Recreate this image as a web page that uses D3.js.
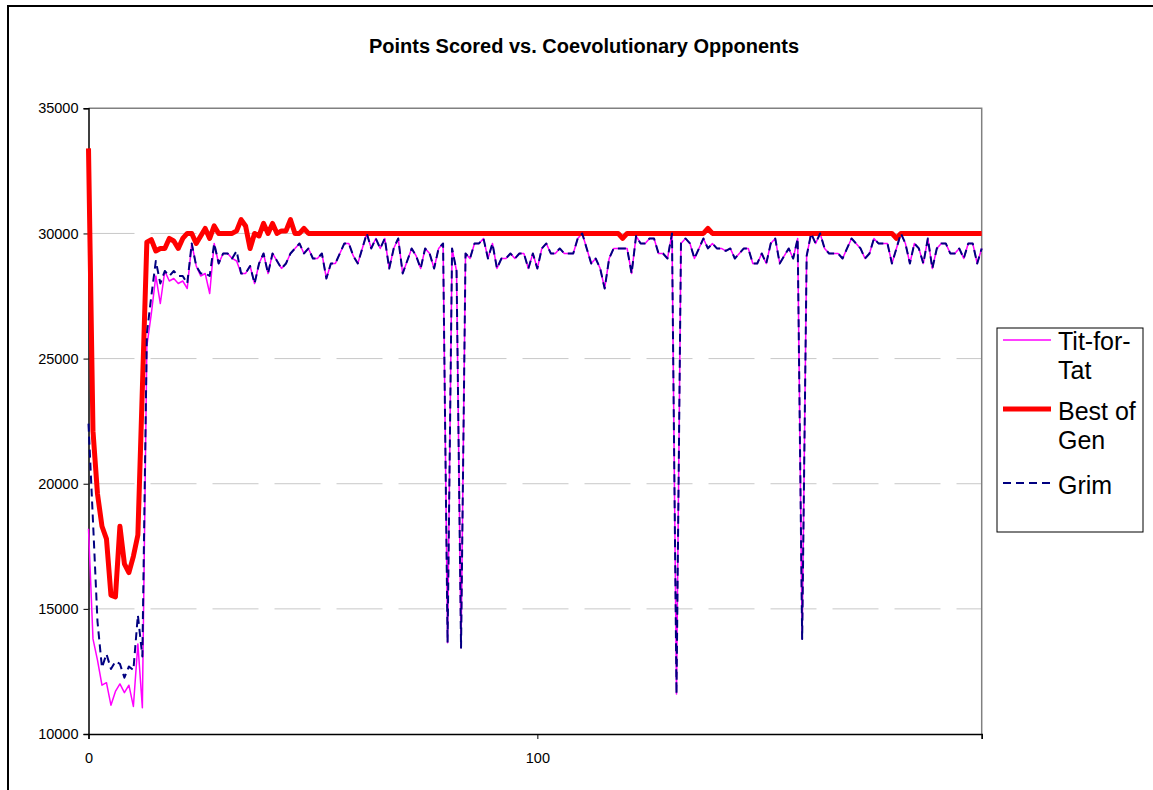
<!DOCTYPE html>
<html>
<head>
<meta charset="utf-8">
<script src="https://cdn.jsdelivr.net/npm/d3@7"></script>
<style>
    body { margin: 0; background: #fff; }
    svg { display: block; font-family: "Liberation Sans", Arial, sans-serif; }
</style>
</head>
<body>
<div id="chart"></div>
<script>
'use strict';

// points scored per generation (generation = array index)
const titForTat = [
    18200, 13800, 12950, 11950, 12050, 11150, 11700, 12000, 11650, 11950,
    11100, 13600, 11050, 25500, 26800, 28300, 27200, 28500, 28100, 28200,
    28000, 28100, 27800, 29600, 28700, 28300, 28400, 27600, 29600, 28800,
    29200, 29200, 29000, 28900, 28400, 28400, 28700, 28000, 28800, 29200,
    28400, 29200, 28900, 28600, 28800, 29200, 29400, 29600, 29200, 29400,
    29000, 29000, 29200, 28200, 28800, 28800, 29200, 29600, 29600, 29100,
    28800, 29400, 30000, 29400, 29800, 29400, 29800, 28600, 29400, 29800,
    28400, 28900, 29400, 29100, 28600, 29400, 29200, 28600, 29400, 29600,
    13650, 29400, 28500, 13450, 29200, 29000, 29600, 29600, 29800, 29000,
    29600, 28600, 29000, 29000, 29200, 29000, 29200, 29200, 28600, 29200,
    28600, 29400, 29600, 29200, 29200, 29400, 29200, 29200, 29200, 29800,
    30000, 29400, 28800, 29000, 28600, 27800, 29000, 29400, 29400, 29400,
    29400, 28400, 29900, 29600, 29600, 29800, 29800, 29200, 29200, 29000,
    30000, 11600, 29600, 29800, 29600, 29000, 29400, 29800, 29400, 29600,
    29400, 29400, 29300, 29400, 29000, 29200, 29400, 29400, 28800, 28800,
    29200, 28800, 29600, 29800, 28800, 29100, 29400, 29000, 29800, 13800,
    29100, 30000, 29600, 30000, 29400, 29200, 29200, 29200, 29000, 29400,
    29800, 29600, 29400, 29000, 29200, 29800, 29600, 29600, 29600, 28800,
    29400, 30000, 29600, 28800, 29600, 29400, 28800, 29800, 28600, 29400,
    29600, 29600, 29200, 29200, 29400, 29000, 29600, 29600, 28800, 29400
];

const bestOfGen = [
    33400, 22100, 19600, 18300, 17800, 15550, 15480, 18300, 16800, 16450,
    17100, 17950, 23800, 29650, 29750, 29300, 29400, 29400, 29800, 29700,
    29400, 29800, 30000, 30000, 29600, 29900, 30200, 29800, 30300, 30000,
    30000, 30000, 30000, 30100, 30550, 30300, 29400, 30000, 29900, 30400,
    30000, 30400, 30000, 30100, 30100, 30550, 30000, 30000, 30200, 30000,
    30000, 30000, 30000, 30000, 30000, 30000, 30000, 30000, 30000, 30000,
    30000, 30000, 30000, 30000, 30000, 30000, 30000, 30000, 30000, 30000,
    30000, 30000, 30000, 30000, 30000, 30000, 30000, 30000, 30000, 30000,
    30000, 30000, 30000, 30000, 30000, 30000, 30000, 30000, 30000, 30000,
    30000, 30000, 30000, 30000, 30000, 30000, 30000, 30000, 30000, 30000,
    30000, 30000, 30000, 30000, 30000, 30000, 30000, 30000, 30000, 30000,
    30000, 30000, 30000, 30000, 30000, 30000, 30000, 30000, 30000, 29800,
    30000, 30000, 30000, 30000, 30000, 30000, 30000, 30000, 30000, 30000,
    30000, 30000, 30000, 30000, 30000, 30000, 30000, 30000, 30200, 30000,
    30000, 30000, 30000, 30000, 30000, 30000, 30000, 30000, 30000, 30000,
    30000, 30000, 30000, 30000, 30000, 30000, 30000, 30000, 30000, 30000,
    30000, 30000, 30000, 30000, 30000, 30000, 30000, 30000, 30000, 30000,
    30000, 30000, 30000, 30000, 30000, 30000, 30000, 30000, 30000, 30000,
    29800, 30000, 30000, 30000, 30000, 30000, 30000, 30000, 30000, 30000,
    30000, 30000, 30000, 30000, 30000, 30000, 30000, 30000, 30000, 30000
];

const grim = [
    22400, 18500, 14500, 12650, 13200, 12600, 12900, 12800, 12250, 12700,
    12550, 14750, 13100, 26000, 27500, 28900, 28000, 28500, 28300, 28500,
    28300, 28300, 28000, 29600, 28700, 28400, 28400, 28300, 29600, 28800,
    29200, 29200, 29000, 29300, 28400, 28400, 28700, 28000, 28800, 29200,
    28400, 29200, 28900, 28600, 28800, 29200, 29400, 29600, 29200, 29400,
    29000, 29000, 29200, 28200, 28800, 28800, 29200, 29600, 29600, 29100,
    28800, 29400, 30000, 29400, 29800, 29400, 29800, 28600, 29400, 29800,
    28400, 28900, 29400, 29100, 28600, 29400, 29200, 28600, 29400, 29600,
    13650, 29400, 28500, 13450, 29200, 29000, 29600, 29600, 29800, 29000,
    29600, 28600, 29000, 29000, 29200, 29000, 29200, 29200, 28600, 29200,
    28600, 29400, 29600, 29200, 29200, 29400, 29200, 29200, 29200, 29800,
    30000, 29400, 28800, 29000, 28600, 27800, 29000, 29400, 29400, 29400,
    29400, 28400, 29900, 29600, 29600, 29800, 29800, 29200, 29200, 29000,
    30000, 11600, 29600, 29800, 29600, 29000, 29400, 29800, 29400, 29600,
    29400, 29400, 29300, 29400, 29000, 29200, 29400, 29400, 28800, 28800,
    29200, 28800, 29600, 29800, 28800, 29100, 29400, 29000, 29800, 13800,
    29100, 30000, 29600, 30000, 29400, 29200, 29200, 29200, 29000, 29400,
    29800, 29600, 29400, 29000, 29200, 29800, 29600, 29600, 29600, 28800,
    29400, 30000, 29600, 28800, 29600, 29400, 28800, 29800, 28600, 29400,
    29600, 29600, 29200, 29200, 29400, 29000, 29600, 29600, 28800, 29400
];

const yTicks = [10000, 15000, 20000, 25000, 30000, 35000];
const xTickLabels = [0, 100];
const xTickMarks = [0, 100, 199];

const series = [
    {name: ["Tit-for-", "Tat"], values: titForTat, color: "#ff00ff", width: 1.5, dash: null},
    {name: ["Best of", "Gen"], values: bestOfGen, color: "#ff0000", width: 5, dash: null},
    {name: ["Grim"], values: grim, color: "#000080", width: 2, dash: "8,5"}
];

const W = 1153, H = 790;
const plot = {left: 88.5, right: 981.7, top: 108.3, bottom: 734};

const svg = d3.select("#chart").append("svg")
    .attr("width", W)
    .attr("height", H);

// outer chart frame (runs off the right and bottom edge)
svg.append("rect")
    .attr("x", 8).attr("y", 6)
    .attr("width", W + 20).attr("height", H + 20)
    .attr("fill", "#fff")
    .attr("stroke", "#000")
    .attr("stroke-width", 2);

const x = d3.scaleLinear()
    .domain([0, titForTat.length - 1])
    .range([plot.left, plot.right]);

const y = d3.scaleLinear()
    .domain([10000, 35000])
    .range([plot.bottom, plot.top]);

// title
svg.append("text")
    .attr("x", 584)
    .attr("y", 53)
    .attr("text-anchor", "middle")
    .style("font-size", "20px")
    .style("font-weight", "bold")
    .text("Points Scored vs. Coevolutionary Opponents");

// dashed gridlines
svg.append("g")
    .selectAll("line")
    .data(yTicks.filter(function(d) { return d > 10000 && d < 35000; }))
    .join("line")
    .attr("x1", plot.left).attr("x2", plot.right)
    .attr("y1", function(d) { return y(d); })
    .attr("y2", function(d) { return y(d); })
    .attr("stroke", "#c8c8c8")
    .attr("stroke-width", 1)
    .attr("stroke-dasharray", "46,16");

// plot frame: top and right in grey
svg.append("path")
    .attr("d", "M" + plot.left + "," + plot.top + "H" + plot.right + "V" + plot.bottom)
    .attr("fill", "none")
    .attr("stroke", "#808080")
    .attr("stroke-width", 1.5);

// axes
const yAxis = svg.append("g")
    .attr("transform", "translate(" + plot.left + ",0)")
    .call(d3.axisLeft(y).tickValues(yTicks).tickSize(5).tickPadding(5).tickFormat(d3.format("d")));

const xAxis = svg.append("g")
    .attr("transform", "translate(0," + plot.bottom + ")")
    .call(d3.axisBottom(x).tickValues(xTickMarks).tickSize(5).tickPadding(14)
        .tickFormat(function(d) { return xTickLabels.indexOf(d) >= 0 ? d : ""; }));

[yAxis, xAxis].forEach(function(ax) {
    ax.select(".domain").attr("stroke", "#000").attr("stroke-width", 1.5);
    ax.selectAll(".tick line").attr("stroke", "#000");
    ax.selectAll(".tick text")
        .attr("fill", "#000")
        .style("font-family", "'Liberation Sans', Arial, sans-serif")
        .style("font-size", "14.5px");
});

// series lines
const line = d3.line()
    .x(function(d, i) { return x(i); })
    .y(function(d) { return y(d); });

svg.append("g")
    .selectAll("path")
    .data(series)
    .join("path")
    .attr("d", function(d) { return line(d.values); })
    .attr("fill", "none")
    .attr("stroke", function(d) { return d.color; })
    .attr("stroke-width", function(d) { return d.width; })
    .attr("stroke-dasharray", function(d) { return d.dash; })
    .attr("stroke-linejoin", "round");

// legend
const legend = svg.append("g");
legend.append("rect")
    .attr("x", 997).attr("y", 328)
    .attr("width", 146).attr("height", 204)
    .attr("fill", "#fff")
    .attr("stroke", "#000")
    .attr("stroke-width", 1);

const legendLineY = [340, 409, 483];
const legendTextY = [[350, 379], [420, 449], [494]];

series.forEach(function(s, k) {
    legend.append("line")
        .attr("x1", 1003).attr("x2", 1051)
        .attr("y1", legendLineY[k]).attr("y2", legendLineY[k])
        .attr("stroke", s.color)
        .attr("stroke-width", s.width)
        .attr("stroke-dasharray", s.dash);
    s.name.forEach(function(t, j) {
        legend.append("text")
            .attr("x", 1058)
            .attr("y", legendTextY[k][j])
            .style("font-size", "25px")
            .text(t);
    });
});
</script>
</body>
</html>
